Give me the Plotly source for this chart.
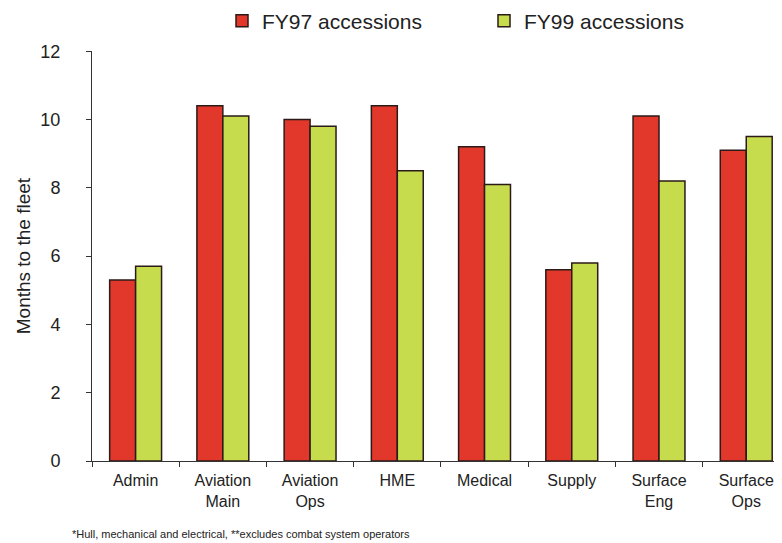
import plotly.graph_objects as go

categories = ["Admin", "Aviation<br>Main", "Aviation<br>Ops", "HME", "Medical", "Supply", "Surface<br>Eng", "Surface<br>Ops"]
fy97 = [5.3, 10.4, 10.0, 10.4, 9.2, 5.6, 10.1, 9.1]
fy99 = [5.7, 10.1, 9.8, 8.5, 8.1, 5.8, 8.2, 9.5]
series_names = ["FY97 accessions", "FY99 accessions"]
footnote = "*Hull, mechanical and electrical, **excludes combat system operators"

# page has an 8px body margin; figure sized to fill the rest of the window
OFF = 8
W, H = 782 - OFF, 543 - OFF
L, R, T, B = 92 - OFF, 0, 47 - OFF, 82
FONT = "Liberation Sans, Arial, sans-serif"

fig = go.Figure()
fig.add_trace(go.Bar(x=categories, y=fy97, name=series_names[0],
                     marker=dict(color="#E1382B", line=dict(color="#2b1a18", width=1.5))))
fig.add_trace(go.Bar(x=categories, y=fy99, name=series_names[1],
                     marker=dict(color="#C7DC4C", line=dict(color="#2b1a18", width=1.5))))

fig.update_layout(
    width=W, height=H,
    margin=dict(l=L, r=R, t=T, b=B, pad=0),
    paper_bgcolor="white", plot_bgcolor="white",
    font=dict(family=FONT, color="#222222"),
    barmode="group", bargap=0.405, bargroupgap=0,
    showlegend=True,
    legend=dict(orientation="h", xref="container", yref="container",
                x=(222 - OFF) / W, xanchor="left", y=1 - (21 - OFF) / H, yanchor="middle",
                font=dict(size=21, color="#222222"),
                entrywidth=217, entrywidthmode="pixels",
                bgcolor="rgba(0,0,0,0)", tracegroupgap=0),
    xaxis=dict(range=[-0.5, 7.41], showline=True, linecolor="#333333", linewidth=1,
               ticks="outside", tickson="boundaries", ticklen=5, tickcolor="#333333",
               tickfont=dict(size=16, color="#222222"), showgrid=False, zeroline=False,
               ticklabelstandoff=5),
    yaxis=dict(range=[0, 12], dtick=2, showline=True, linecolor="#333333", linewidth=1,
               ticks="outside", ticklen=5, tickcolor="#333333",
               tickfont=dict(size=18, color="#222222"), showgrid=False, zeroline=False,
               ticklabelstandoff=22,
               title=dict(text="Months to the fleet", font=dict(size=19, color="#222222"), standoff=4)),
    annotations=[dict(text=footnote, xref="paper", yref="paper",
                      x=(70 - 92) / (W - L - R), y=-(535 - 461) / (H - T - B),
                      xanchor="left", yanchor="middle", showarrow=False,
                      font=dict(size=11, color="#222222"))],
)

fig.write_html("out.html")
